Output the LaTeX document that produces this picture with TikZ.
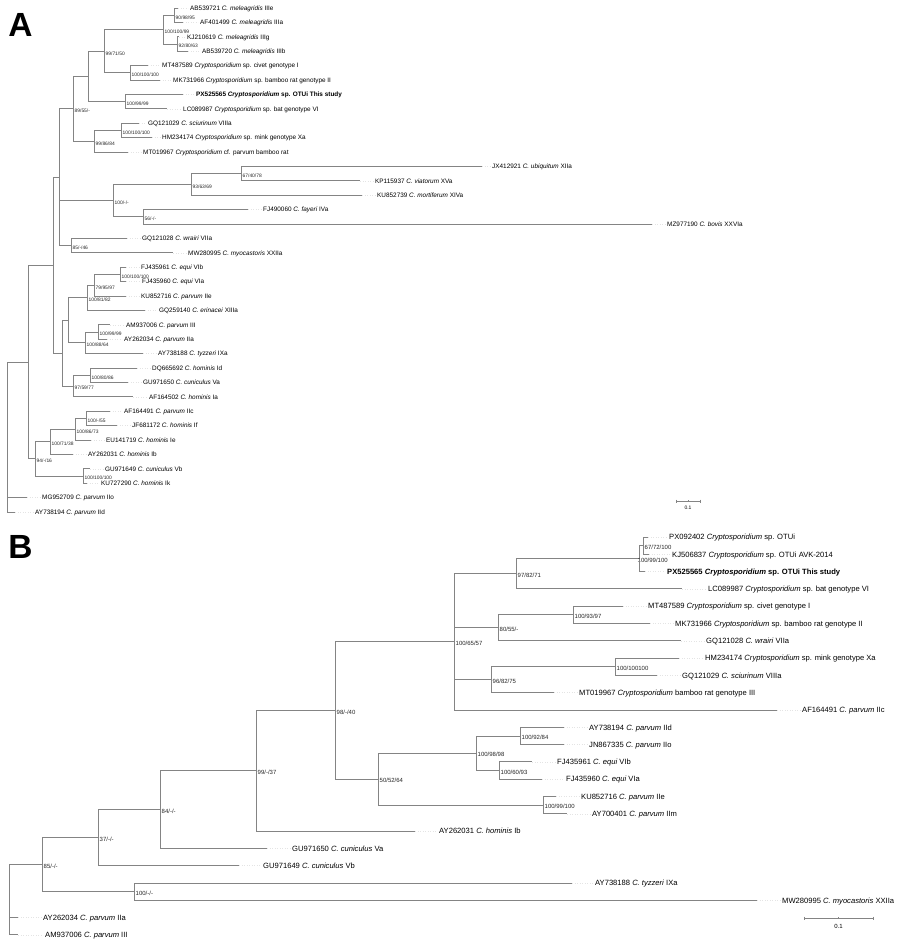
\documentclass[tikz,border=0pt]{standalone}
\usepackage{fontspec}
\setmainfont{Liberation Sans}
\usetikzlibrary{positioning,calc}
\definecolor{branchcolor}{RGB}{132,132,132}
\definecolor{leadercolor}{RGB}{228,228,228}

\begin{document}
\begin{tikzpicture}[x=1pt, y=-1pt,
    branch/.style={draw=branchcolor, line width=0.9pt},
    leader/.style={draw=leadercolor, dotted, line width=0.5pt, shorten >=2pt},
    leafA/.style={anchor=west, inner sep=0pt, font=\fontsize{6.4}{7}\selectfont, text height=4.6pt, text depth=0pt},
    leafB/.style={anchor=west, inner sep=0pt, font=\fontsize{7.6}{9}\selectfont, text height=5.45pt, text depth=0pt},
    suppA/.style={anchor=west, inner sep=0pt, xshift=1.5pt, yshift=-2.2pt, text=black!85, font=\fontsize{4.9}{5}\selectfont, text height=3.5pt, text depth=0pt},
    suppB/.style={anchor=west, inner sep=0pt, xshift=1.5pt, yshift=-1.5pt, text=black!85, font=\fontsize{6}{7}\selectfont, text height=4.3pt, text depth=0pt},
    panel/.style={inner sep=0pt, font=\fontsize{33.5}{36}\selectfont\bfseries}
]
\useasboundingbox (0,0) rectangle (900,946);

% Panel letters
\node[panel] (panelA) at (20.5,25) {A};
\node[panel] (panelB) at (20.5,547) {B};

% ---------------- Panel A ----------------
\coordinate (a0) at (7,362);
% internal nodes (parent first)
\foreach \n/\up/\x/\y in {a32/a0/28/362, a26/a32/53/265.2, a31/a32/35/458.9,
    a16/a26/59/177.2, a25/a26/62/353.15, a10/a16/73/108.8, a14/a16/113/200.6,
    a15/a16/71/245.6, a7/a10/88/76.4, a9/a10/94/141.2, a5/a7/104/51.2,
    a6/a7/125/101.6, a3/a5/163/29.6, a4/a5/130/72.8, a1/a3/174/15.2,
    a2/a3/177/44, a8/a9/121/130.4, a12/a14/191/184.4, a13/a14/143/216.8,
    a11/a12/241/173.6, a22/a25/68/320.3, a24/a25/73/386, a19/a22/87/297.8,
    a21/a22/85/342.8, a18/a19/94/285.2, a17/a18/120/274.4, a20/a21/98/332,
    a23/a24/90/375.2, a29/a31/50/441.8, a30/a31/83/476, a28/a29/75/429.2,
    a27/a28/86/418.4} {
    \coordinate (\n) at (\x,\y);
    \draw[branch] (\up) |- (\n);
}

% support values
\foreach \n/\s in {a1/{90/98/95}, a2/{92/80/63}, a3/{100/100/99}, a4/{100/100/100},
    a5/{99/71/50}, a6/{100/99/99}, a8/{100/100/100}, a9/{99/86/84}, a10/{89/55/-},
    a11/{67/40/78}, a12/{93/63/69}, a13/{56/-/-}, a14/{100/-/-}, a15/{85/-/46},
    a17/{100/100/100}, a18/{79/95/97}, a19/{100/81/82}, a20/{100/99/99},
    a21/{100/88/64}, a23/{100/80/86}, a24/{97/59/77}, a27/{100/-/55},
    a28/{100/86/73}, a29/{100/71/38}, a30/{100/100/100}, a31/{94/-/16}} {
    \node[suppA] (s\n) at (\n) {\s};
}

% leaves
\foreach \i/\up/\tipx/\labx/\name in {
    1/a1/178/190/{AB539721 \textit{C. meleagridis} IIIe},
    2/a1/183/200/{AF401499 \textit{C. meleagridis} IIIa},
    3/a2/179/187/{KJ210619 \textit{C. meleagridis} IIIg},
    4/a2/188/202/{AB539720 \textit{C. meleagridis} IIIb},
    5/a4/148/162/{MT487589 \textit{Cryptosporidium} sp. civet genotype I},
    6/a4/160/173/{MK731966 \textit{Cryptosporidium} sp. bamboo rat genotype II},
    7/a6/183/196/{\textbf{PX525565 \textit{Cryptosporidium} sp. OTUi This study}},
    8/a6/167/183/{LC089987 \textit{Cryptosporidium} sp. bat genotype VI},
    9/a8/139/148/{GQ121029 \textit{C. sciurinum} VIIIa},
    10/a8/152/162/{HM234174 \textit{Cryptosporidium} sp. mink genotype Xa},
    11/a9/128/143/{MT019967 \textit{Cryptosporidium} cf. parvum bamboo rat},
    12/a11/482/492/{JX412921 \textit{C. ubiquitum} XIIa},
    13/a11/360/375/{KP115937 \textit{C. viatorum} XVa},
    14/a12/362/377/{KU852739 \textit{C. mortiferum} XIVa},
    15/a13/248/263/{FJ490060 \textit{C. fayeri} IVa},
    16/a13/652/667/{MZ977190 \textit{C. bovis} XXVIa},
    17/a15/127/142/{GQ121028 \textit{C. wrairi} VIIa},
    18/a15/173/188/{MW280995 \textit{C. myocastoris} XXIIa},
    19/a17/126/141/{FJ435961 \textit{C. equi} VIb},
    20/a17/126/142/{FJ435960 \textit{C. equi} VIa},
    21/a18/126/141/{KU852716 \textit{C. parvum} IIe},
    22/a19/145/159/{GQ259140 \textit{C. erinacei} XIIIa},
    23/a20/110/126/{AM937006 \textit{C. parvum} III},
    24/a20/107/124/{AY262034 \textit{C. parvum} IIa},
    25/a21/143/158/{AY738188 \textit{C. tyzzeri} IXa},
    26/a23/137/152/{DQ665692 \textit{C. hominis} Id},
    27/a23/128/143/{GU971650 \textit{C. cuniculus} Va},
    28/a24/133/149/{AF164502 \textit{C. hominis} Ia},
    29/a27/110/124/{AF164491 \textit{C. parvum} IIc},
    30/a27/117/132/{JF681172 \textit{C. hominis} If},
    31/a28/91/106/{EU141719 \textit{C. hominis} Ie},
    32/a29/73/88/{AY262031 \textit{C. hominis} Ib},
    33/a30/90/105/{GU971649 \textit{C. cuniculus} Vb},
    34/a30/87/101/{KU727290 \textit{C. hominis} Ik},
    35/a0/27/42/{MG952709 \textit{C. parvum} IIo},
    36/a0/15/35/{AY738194 \textit{C. parvum} IId}} {
    \pgfmathsetmacro{\yy}{8+(\i-1)*14.4}
    \coordinate (ta\i) at (\tipx,\yy);
    \draw[branch] (\up) |- (ta\i);
    \node[leafA] (la\i) at (\labx,\yy) {\name};
    \draw[leader] (ta\i) -- (la\i.west);
}

% scale bar
\coordinate (sbA1) at (676,501);
\coordinate (sbA2) at (700,501);
\coordinate (sbAm) at (688,501);
\draw[branch, line width=0.7pt] (sbA1) -- (sbA2);
\draw[branch, line width=0.7pt] (sbA1) ++(0,-1.5) -- ++(0,3);
\draw[branch, line width=0.7pt] (sbA2) ++(0,-1.5) -- ++(0,3);
\draw[branch, line width=0.7pt] (sbAm) ++(0,-1) -- ++(0,1);
\node[inner sep=0pt, font=\fontsize{5}{6}\selectfont] (sbAlab) at (688,507.5) {0.1};

% ---------------- Panel B ----------------
\coordinate (b0) at (9,864.65);
% internal nodes (parent first)
\foreach \n/\up/\x/\y in {b19/b0/42/864.65, b17/b19/98/837.65, b18/b19/134/891.65,
    b16/b17/160/809.6, b15/b16/256/770.8, b14/b15/335/710.55, b8/b14/454/641.9,
    b13/b14/378/779.2, b3/b8/516/573.75, b5/b8/498/627.8, b7/b8/491/679.7,
    b2/b3/639/558.6, b1/b2/643/545.65, b4/b5/573/614.85, b6/b7/615/666.75,
    b11/b13/476/753.25, b12/b13/543/805.15, b9/b11/520/735.95,
    b10/b11/499/770.55} {
    \coordinate (\n) at (\x,\y);
    \draw[branch] (\up) |- (\n);
}

% support values
\foreach \n/\s in {b1/{67/72/100}, b3/{97/82/71}, b4/{100/93/97}, b5/{80/55/-},
    b6/{100/100100}, b7/{96/82/75}, b8/{100/65/57}, b9/{100/92/84}, b10/{100/60/93},
    b11/{100/98/98}, b12/{100/99/100}, b13/{50/52/64}, b14/{98/-/40},
    b15/{99/-/37}, b16/{84/-/-}, b17/{37/-/-}, b18/{100/-/-}, b19/{85/-/-}} {
    \node[suppB] (s\n) at (\n) {\s};
}
\node[suppB, xshift=-3pt] (sb2) at (b2) {100/99/100};

% leaves
\foreach \i/\up/\tipx/\labx/\name in {
    1/b1/648/669/{PX092402 \textit{Cryptosporidium} sp. OTUi},
    2/b1/649/672/{KJ506837 \textit{Cryptosporidium} sp. OTUi AVK-2014},
    3/b2/645/667/{\textbf{PX525565 \textit{Cryptosporidium} sp. OTUi This study}},
    4/b3/682/708/{LC089987 \textit{Cryptosporidium} sp. bat genotype VI},
    5/b4/623/648/{MT487589 \textit{Cryptosporidium} sp. civet genotype I},
    6/b4/650/675/{MK731966 \textit{Cryptosporidium} sp. bamboo rat genotype II},
    7/b5/681/706/{GQ121028 \textit{C. wrairi} VIIa},
    8/b6/679/705/{HM234174 \textit{Cryptosporidium} sp. mink genotype Xa},
    9/b6/657/682/{GQ121029 \textit{C. sciurinum} VIIIa},
    10/b7/554/579/{MT019967 \textit{Cryptosporidium} bamboo rat genotype III},
    11/b8/777/802/{AF164491 \textit{C. parvum} IIc},
    12/b9/564/589/{AY738194 \textit{C. parvum} IId},
    13/b9/564/589/{JN867335 \textit{C. parvum} IIo},
    14/b10/532/557/{FJ435961 \textit{C. equi} VIb},
    15/b10/542/566/{FJ435960 \textit{C. equi} VIa},
    16/b12/556/581/{KU852716 \textit{C. parvum} IIe},
    17/b12/567/592/{AY700401 \textit{C. parvum} IIm},
    18/b15/415/439/{AY262031 \textit{C. hominis} Ib},
    19/b16/267/292/{GU971650 \textit{C. cuniculus} Va},
    20/b17/239/263/{GU971649 \textit{C. cuniculus} Vb},
    21/b18/572/595/{AY738188 \textit{C. tyzzeri} IXa},
    22/b18/757/782/{MW280995 \textit{C. myocastoris} XXIIa},
    23/b0/18/43/{AY262034 \textit{C. parvum} IIa},
    24/b0/18/45/{AM937006 \textit{C. parvum} III}} {
    \pgfmathsetmacro{\yy}{537+(\i-1)*17.3}
    \coordinate (tb\i) at (\tipx,\yy);
    \draw[branch] (\up) |- (tb\i);
    \node[leafB] (lb\i) at (\labx,\yy) {\name};
    \draw[leader] (tb\i) -- (lb\i.west);
}

% scale bar
\coordinate (sbB1) at (804,918);
\coordinate (sbB2) at (873,918);
\coordinate (sbBm) at (838.5,918);
\draw[branch, line width=0.7pt] (sbB1) -- (sbB2);
\draw[branch, line width=0.7pt] (sbB1) ++(0,-1.5) -- ++(0,3);
\draw[branch, line width=0.7pt] (sbB2) ++(0,-1.5) -- ++(0,3);
\draw[branch, line width=0.7pt] (sbBm) ++(0,-1) -- ++(0,1);
\node[inner sep=0pt, font=\fontsize{6}{7}\selectfont] (sbBlab) at (838.5,926) {0.1};

\end{tikzpicture}
\end{document}
